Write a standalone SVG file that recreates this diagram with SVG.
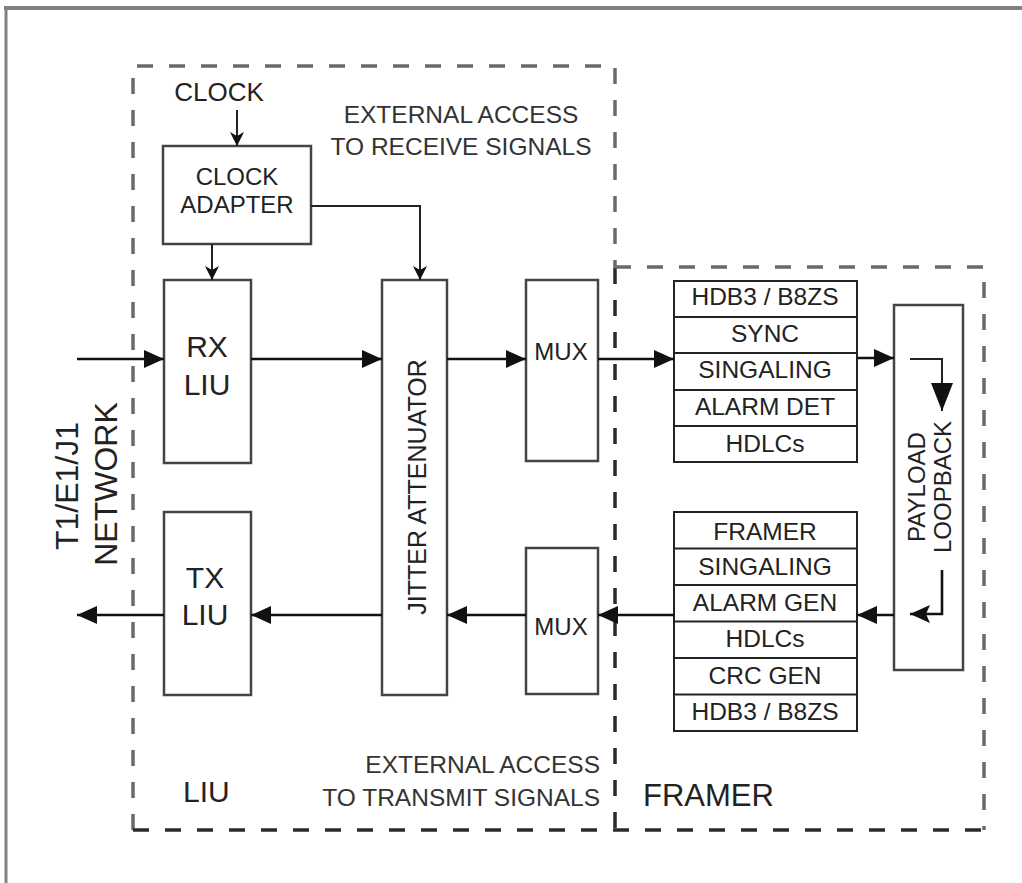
<svg xmlns="http://www.w3.org/2000/svg" width="1022" height="883" viewBox="0 0 1022 883">
<defs>
<style>
text{font-family:"Liberation Sans",Arial,sans-serif;fill:#222;}
.t24{font-size:24.5px;text-anchor:middle;}
.t30{font-size:30px;text-anchor:middle;}
.ext{font-size:24.5px;fill:#333;}
.box{fill:#fff;stroke:#444;stroke-width:2.5;}
.stk{fill:#fff;stroke:#222;stroke-width:2;}
.div{stroke:#222;stroke-width:2;}
.con{fill:none;stroke:#111;stroke-width:2.6;}
.thin{fill:none;stroke:#222;stroke-width:2;}
.dashG{fill:none;stroke:#6a6a6a;stroke-width:3.5;stroke-dasharray:16 16;}
.dashK{fill:none;stroke:#2a2a2a;stroke-width:3.5;stroke-dasharray:16 16;}
</style>
<marker id="ah" viewBox="0 0 20 20" markerUnits="userSpaceOnUse" markerWidth="20" markerHeight="20" refX="20" refY="10" orient="auto">
<path d="M0,1 L20,10 L0,19 Z" fill="#111"/>
</marker>
<marker id="as" viewBox="0 0 14 14" markerUnits="userSpaceOnUse" markerWidth="14" markerHeight="14" refX="14" refY="7" orient="auto">
<path d="M0,0 L14,7 L0,14 L4,7 Z" fill="#111"/>
</marker>
<marker id="ad" viewBox="0 0 28 22" markerUnits="userSpaceOnUse" markerWidth="28" markerHeight="22" refX="28" refY="11" orient="auto">
<path d="M0,0 L28,11 L0,22 Z" fill="#111"/>
</marker>
<marker id="al" viewBox="0 0 20 18" markerUnits="userSpaceOnUse" markerWidth="20" markerHeight="18" refX="20" refY="9" orient="auto">
<path d="M0,0 L20,9 L0,18 L4,9 Z" fill="#111"/>
</marker>
</defs>
<rect x="0" y="0" width="1022" height="883" fill="#fff"/>
<g id="frame">
<line x1="4" y1="8" x2="1022" y2="8" stroke="#808080" stroke-width="4"/>
<line x1="6" y1="6" x2="6" y2="883" stroke="#808080" stroke-width="3"/>
</g>
<g id="regions">
<path class="dashG" d="M133,830 L133,66 L615,66 L615,268"/>
<path class="dashK" d="M615,268 L615,830"/>
<path class="dashG" d="M615,267 L984,267 L984,830"/>
<path class="dashK" d="M133,830 L984,830"/>
</g>
<g id="labels">
<text x="219" y="101" style="font-size:26px;text-anchor:middle;">CLOCK</text>
<text class="ext" x="461" y="123" text-anchor="middle">EXTERNAL ACCESS</text>
<text class="ext" x="461" y="155" text-anchor="middle">TO RECEIVE SIGNALS</text>
<text class="ext" x="600" y="773" text-anchor="end">EXTERNAL ACCESS</text>
<text class="ext" x="600" y="806" text-anchor="end">TO TRANSMIT SIGNALS</text>
<text x="183" y="802" style="font-size:30px;">LIU</text>
<text x="643" y="806" style="font-size:31px;">FRAMER</text>
<g transform="translate(78,486) rotate(-90)"><text x="0" y="0" style="font-size:32px;text-anchor:middle;">T1/E1/J1</text></g>
<g transform="translate(117,484) rotate(-90)"><text x="0" y="0" style="font-size:32px;text-anchor:middle;">NETWORK</text></g>
</g>
<g id="clock-adapter">
<rect class="box" x="163" y="146" width="148" height="98"/>
<text x="237" y="185" style="font-size:24px;text-anchor:middle;">CLOCK</text>
<text x="237" y="213" style="font-size:24px;text-anchor:middle;">ADAPTER</text>
</g>
<g id="rx-liu">
<rect class="box" x="164" y="280" width="87" height="183"/>
<text class="t30" x="207" y="357">RX</text>
<text class="t30" x="207" y="395">LIU</text>
</g>
<g id="tx-liu">
<rect class="box" x="164" y="512" width="87" height="183"/>
<text class="t30" x="205" y="588">TX</text>
<text class="t30" x="205" y="625">LIU</text>
</g>
<g id="jitter-attenuator">
<rect class="box" x="382" y="280" width="65" height="415"/>
<g transform="translate(426,487) rotate(-90)"><text x="0" y="0" style="font-size:25px;text-anchor:middle;">JITTER ATTENUATOR</text></g>
</g>
<g id="mux-rx">
<rect class="box" x="526" y="280" width="72" height="181"/>
<text x="561" y="360" style="font-size:24px;text-anchor:middle;">MUX</text>
</g>
<g id="mux-tx">
<rect class="box" x="526" y="548" width="72" height="146"/>
<text x="561" y="635" style="font-size:24px;text-anchor:middle;">MUX</text>
</g>
<g id="rx-framer">
<rect class="stk" x="674" y="281" width="183" height="181"/>
<line class="div" x1="674" y1="317" x2="857" y2="317"/>
<line class="div" x1="674" y1="353" x2="857" y2="353"/>
<line class="div" x1="674" y1="390" x2="857" y2="390"/>
<line class="div" x1="674" y1="426" x2="857" y2="426"/>
<text class="t24" x="765" y="305">HDB3 / B8ZS</text>
<text class="t24" x="765" y="342">SYNC</text>
<text class="t24" x="765" y="378">SINGALING</text>
<text class="t24" x="765" y="415">ALARM DET</text>
<text class="t24" x="765" y="452">HDLCs</text>
</g>
<g id="tx-framer">
<rect class="stk" x="674" y="512" width="183" height="219"/>
<line class="div" x1="674" y1="548.5" x2="857" y2="548.5"/>
<line class="div" x1="674" y1="585" x2="857" y2="585"/>
<line class="div" x1="674" y1="621.5" x2="857" y2="621.5"/>
<line class="div" x1="674" y1="658" x2="857" y2="658"/>
<line class="div" x1="674" y1="694.5" x2="857" y2="694.5"/>
<text class="t24" x="765" y="540">FRAMER</text>
<text class="t24" x="765" y="575">SINGALING</text>
<text class="t24" x="765" y="611">ALARM GEN</text>
<text class="t24" x="765" y="647">HDLCs</text>
<text class="t24" x="765" y="684">CRC GEN</text>
<text class="t24" x="765" y="720">HDB3 / B8ZS</text>
</g>
<g id="payload-loopback">
<rect class="box" x="894" y="305" width="69" height="365"/>
<g transform="translate(925,487) rotate(-90)"><text x="0" y="0" style="font-size:24px;text-anchor:middle;">PAYLOAD</text></g>
<g transform="translate(951,487) rotate(-90)"><text x="0" y="0" style="font-size:24px;text-anchor:middle;">LOOPBACK</text></g>
</g>
<g id="connectors">
<line class="thin" x1="237" y1="110" x2="237" y2="146" marker-end="url(#as)"/>
<line class="thin" x1="212" y1="244" x2="212" y2="280" marker-end="url(#as)"/>
<polyline class="thin" points="311,206 420,206 420,280" marker-end="url(#as)"/>
<line class="con" x1="77" y1="359" x2="164" y2="359" marker-end="url(#ah)"/>
<line class="con" x1="251" y1="359" x2="382" y2="359" marker-end="url(#ah)"/>
<line class="con" x1="447" y1="359" x2="526" y2="359" marker-end="url(#ah)"/>
<line class="con" x1="598" y1="359" x2="674" y2="359" marker-end="url(#ah)"/>
<line class="con" x1="857" y1="358" x2="894" y2="358" marker-end="url(#ah)"/>
<polyline class="thin" points="910,359 942,359 942,411" marker-end="url(#ad)"/>
<polyline class="con" points="942,570 942,614 910,614" marker-end="url(#al)"/>
<line class="con" x1="894" y1="615" x2="857" y2="615" marker-end="url(#ah)"/>
<line class="con" x1="674" y1="615" x2="598" y2="615" marker-end="url(#ah)"/>
<line class="con" x1="526" y1="615" x2="447" y2="615" marker-end="url(#ah)"/>
<line class="con" x1="382" y1="615" x2="251" y2="615" marker-end="url(#ah)"/>
<line class="con" x1="164" y1="615" x2="77" y2="615" marker-end="url(#ah)"/>
</g>
</svg>
